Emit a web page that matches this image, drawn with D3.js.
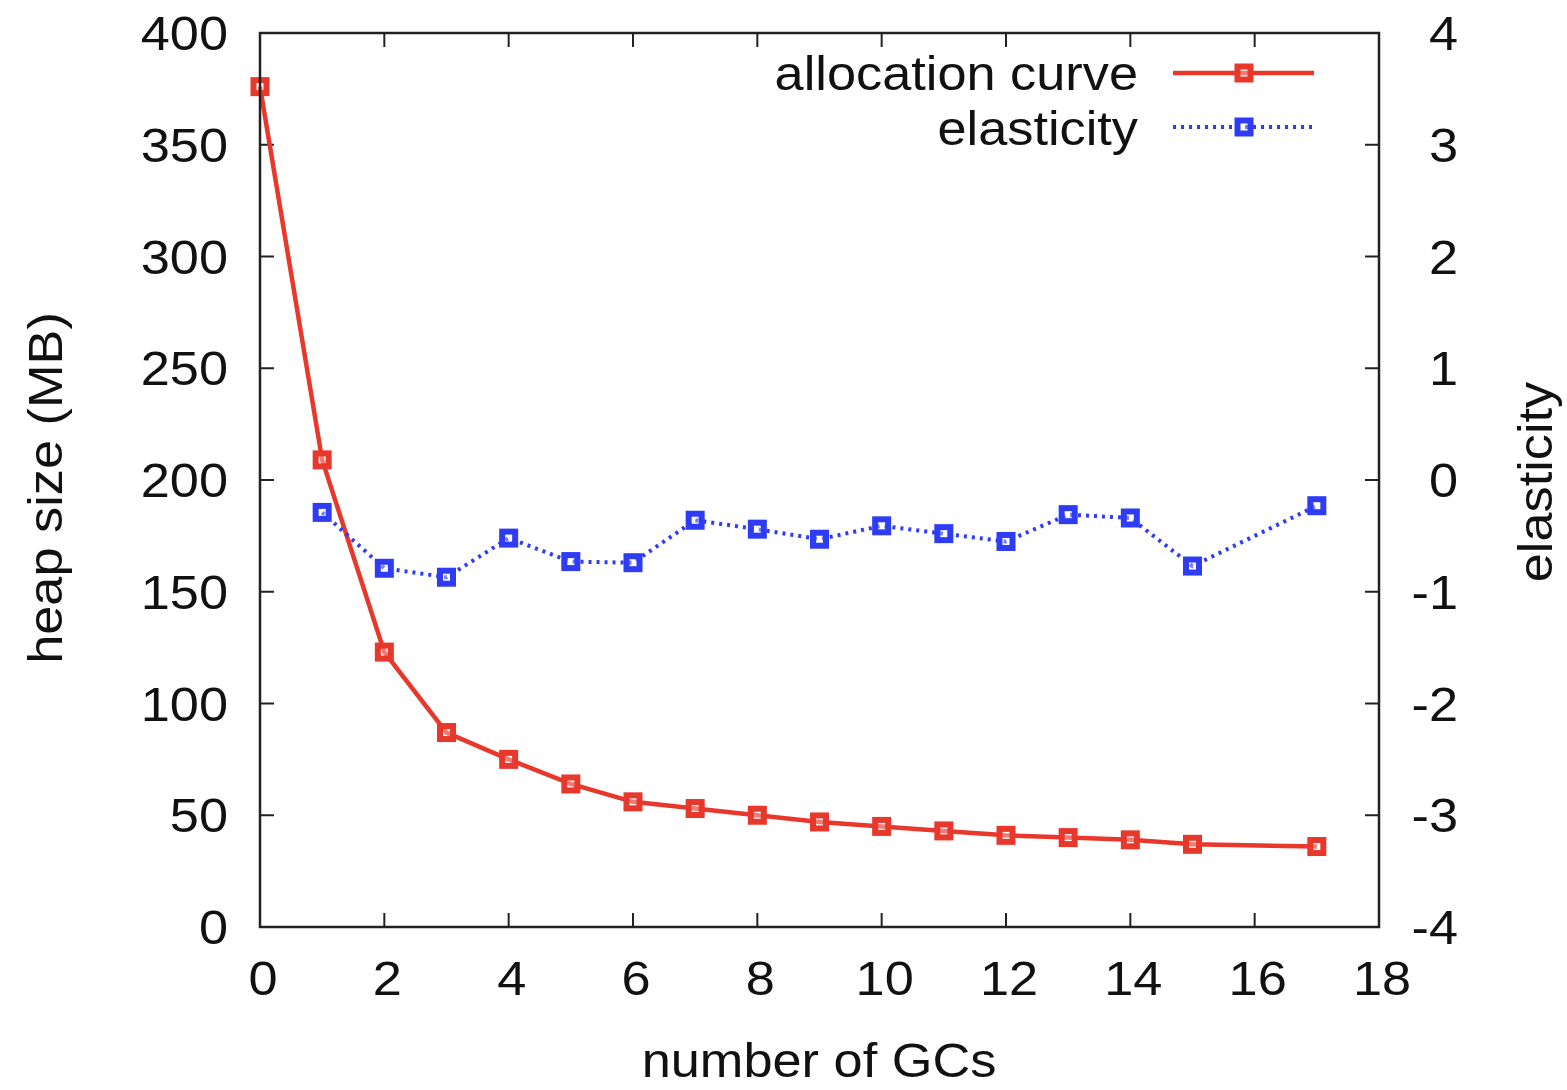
<!DOCTYPE html>
<html><head><meta charset="utf-8">
<script src="https://cdn.jsdelivr.net/npm/d3@7"></script>
<style>body{margin:0;background:#fff}svg{display:block}text{font-family:"Liberation Sans",Arial,sans-serif;fill:#111}</style>
</head><body>
<svg id="c" width="1567" height="1090"></svg>
<script>
const gcs = [0,1,2,3,4,5,6,7,8,9,10,11,12,13,14,15,17];
const allocation = [376,209,123,87,75,64,56,53,50,47,45,43,41,40,39,37,36];
const elastX = [1,2,3,4,5,6,7,8,9,10,11,12,13,14,15,17];
const elasticity = [-0.29,-0.79,-0.87,-0.52,-0.73,-0.74,-0.36,-0.44,-0.53,-0.41,-0.48,-0.55,-0.31,-0.34,-0.77,-0.23];
const xTicks = [0,2,4,6,8,10,12,14,16,18];
const yTicks = [0,50,100,150,200,250,300,350,400];
const y2Ticks = [-4,-3,-2,-1,0,1,2,3,4];
const seriesNames = ["allocation curve","elasticity"];

const svg = d3.select("#c");
const L=260,R=1379,T=33,B=927;
const x = d3.scaleLinear().domain([0,18]).range([L,R]);
const y = d3.scaleLinear().domain([0,400]).range([B,T]);
const y2 = d3.scaleLinear().domain([-4,4]).range([B,T]);
const red="#e8372b", blue="#2f3cf5";
const fs=48, tl=14, sx=1.09;

function txt(g,px,py,s,anchor,rot){
  return g.append("text")
    .attr("transform",`translate(${px},${py})`+(rot?` rotate(${rot})`:"")+` scale(${sx},1)`)
    .attr("text-anchor",anchor).attr("font-size",fs).text(s);
}

// ticks (inward, mirrored)
const tk = svg.append("g").attr("stroke","#222").attr("stroke-width",2);
xTicks.forEach(v=>{
  tk.append("line").attr("x1",x(v)).attr("x2",x(v)).attr("y1",B).attr("y2",B-tl);
  tk.append("line").attr("x1",x(v)).attr("x2",x(v)).attr("y1",T).attr("y2",T+tl);
});
yTicks.forEach(v=>tk.append("line").attr("x1",L).attr("x2",L+tl).attr("y1",y(v)).attr("y2",y(v)));
y2Ticks.forEach(v=>tk.append("line").attr("x1",R).attr("x2",R-tl).attr("y1",y2(v)).attr("y2",y2(v)));

// tick labels
const tg = svg.append("g");
xTicks.forEach(d=>txt(tg,x(d)+3,995,d,"middle"));
yTicks.forEach(d=>txt(tg,228,y(d)+17,d,"end"));
y2Ticks.forEach(d=>txt(tg,1458,y2(d)+17,d,"end"));

// axis titles
txt(svg,819,1077,"number of GCs","middle");
txt(svg,62,488,"heap size (MB)","middle",-90);
txt(svg,1552,482,"elasticity","middle",-90);

// lines
const la = d3.line().x((d,i)=>x(gcs[i])).y(d=>y(d));
svg.append("path").attr("d",la(allocation)).attr("fill","none").attr("stroke",red).attr("stroke-width",4.5);
const le = d3.line().x((d,i)=>x(elastX[i])).y(d=>y2(d));
svg.append("path").attr("d",le(elasticity)).attr("fill","none").attr("stroke",blue).attr("stroke-width",4).attr("stroke-dasharray","3,5");

function marker(g,cx,cy,col){
  g.append("rect").attr("x",cx-6.5).attr("y",cy-6.5).attr("width",13).attr("height",13)
   .attr("fill","#fff").attr("fill-opacity",0.35).attr("stroke",col).attr("stroke-width",6);
}
const mg = svg.append("g");
allocation.forEach((v,i)=>marker(mg,x(gcs[i]),y(v),red));
elasticity.forEach((v,i)=>marker(mg,x(elastX[i]),y2(v),blue));

// frame
svg.append("rect").attr("x",L).attr("y",T).attr("width",R-L).attr("height",B-T)
  .attr("fill","none").attr("stroke","#222").attr("stroke-width",2.5);

// legend
const lg = svg.append("g");
txt(lg,1138,90,seriesNames[0],"end");
lg.append("line").attr("x1",1173).attr("x2",1314).attr("y1",73).attr("y2",73).attr("stroke",red).attr("stroke-width",4.5);
marker(lg,1244,73,red);
txt(lg,1138,145,seriesNames[1],"end");
lg.append("line").attr("x1",1173).attr("x2",1314).attr("y1",127).attr("y2",127).attr("stroke",blue).attr("stroke-width",4).attr("stroke-dasharray","3,5");
marker(lg,1244,127,blue);
</script>
</body></html>
